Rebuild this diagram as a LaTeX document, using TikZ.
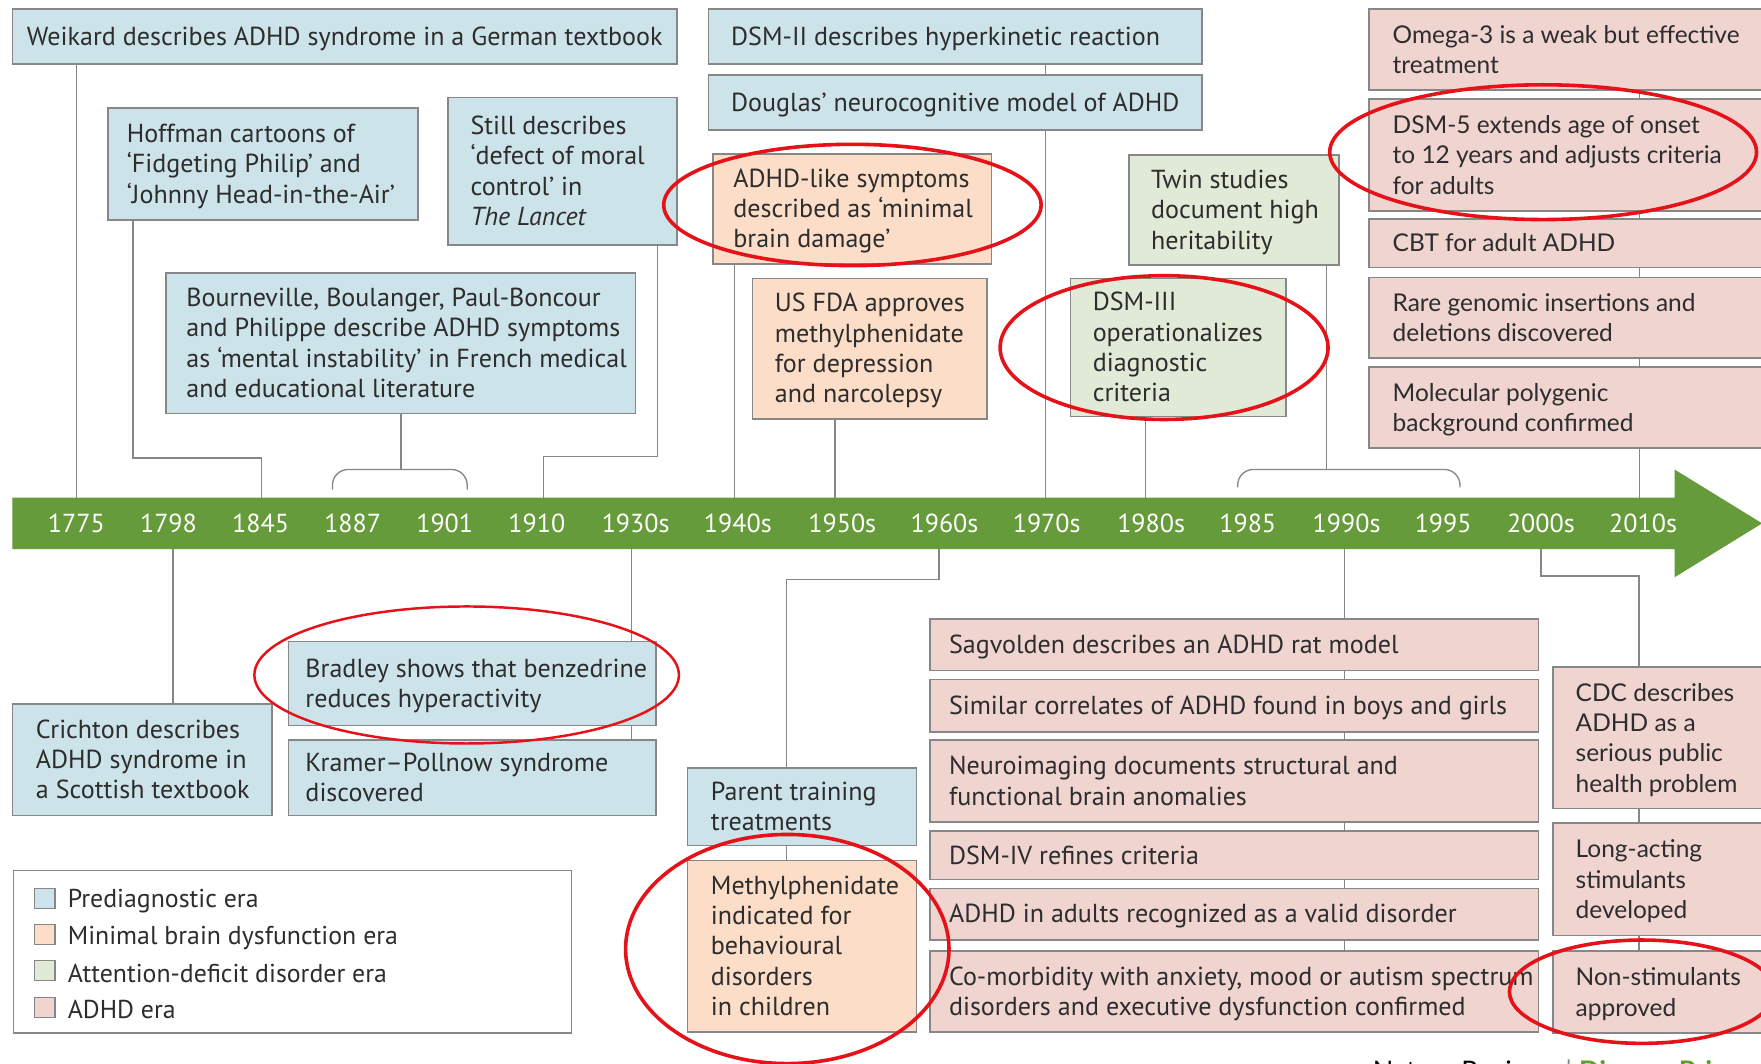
\documentclass[tikz,border=0pt]{standalone}
\usepackage{fontspec}
\setmainfont{PT Sans}
\newfontfamily\widefont{Lato}
\usetikzlibrary{calc}
\definecolor{pblue}{RGB}{205,227,234}
\definecolor{porange}{RGB}{252,221,199}
\definecolor{pgreen}{RGB}{225,234,215}
\definecolor{ppink}{RGB}{239,212,208}
\definecolor{bordergray}{RGB}{135,135,135}
\definecolor{linegray}{RGB}{135,135,135}
\definecolor{tlgreen}{RGB}{101,155,58}
\definecolor{annred}{RGB}{230,18,25}
\definecolor{txt}{RGB}{45,45,45}
\definecolor{natgreen}{RGB}{95,160,45}
\tikzset{
  ebase/.style={draw=bordergray,line width=0.7pt,inner ysep=0pt,
    font=\fontsize{11.6}{13.5}\selectfont,text=txt},
  wide/.style={font=\widefont\fontsize{10.9}{13.5}\selectfont},
  conn/.style={draw=linegray,line width=0.6pt},
  ann/.style={draw=annred,line width=1.6pt},
  yr/.style={text=white,font=\fontsize{11.6}{13}\selectfont,inner sep=0pt},
  legsq/.style={draw=bordergray,line width=0.6pt,minimum size=9pt,inner sep=0pt},
  legtx/.style={anchor=west,inner sep=0pt,text=txt,font=\fontsize{11.5}{13.5}\selectfont},
}
% [pad]{name}{style}{x1}{y1}{x2}{y2}{lines}
\newcommand\ebox[8][9.5]{%
  \pgfmathsetmacro\ebw{(#6-#4)*0.5}%
  \pgfmathsetmacro\ebh{(#7-#5)*0.5}%
  \pgfmathsetmacro\ebt{(#6-#4)*0.5-2*#1}%
  \node[ebase,#3,inner xsep=#1pt,minimum width=\ebw pt,minimum height=\ebh pt] (#2) at ({(#4+#6)/2},{(#5+#7)/2})
    {\makebox[\ebt pt][l]{\raisebox{-1.2pt}[\height][\depth]{\begin{tabular}{@{}l@{}}#8\end{tabular}}}};}
\begin{document}
\begin{tikzpicture}[x=0.5pt,y=-0.5pt]
\useasboundingbox (0,0) rectangle (1568,947);
\fill[white] (0,0) rectangle (1568,947);

% ---------- timeline ----------
\fill[tlgreen] (11,443) -- (1491,443) -- (1491,418) -- (1569,466) -- (1491,514) -- (1491,489) -- (11,489) -- cycle;
\foreach \xx/\ll in {68/1775,150/1798,232/1845,314/1887,396/1901,478/1910,566/1930s,657/1940s,750/1950s,841/1960s,932/1970s,1025/1980s,1111/1985,1199/1990s,1285/1995,1372/2000s,1463/2010s}
  \node[yr] (y\ll) at (\xx,466) {\ll};

% bar attachment points
\coordinate (t1775) at (68,443);
\coordinate (t1845) at (233,443);
\coordinate (t1910) at (484,443);
\coordinate (t1940) at (654,443);
\coordinate (t1950) at (743.5,443);
\coordinate (t1970) at (931,443);
\coordinate (t1980) at (1020,443);
\coordinate (t2010) at (1460,443);
\coordinate (b1798) at (154,489);
\coordinate (b1930) at (562,489);
\coordinate (b1960) at (836,489);
\coordinate (b1990) at (1197,489);
\coordinate (b2000) at (1372,489);

% ---------- top boxes ----------
\ebox[6.5]{weikard}{fill=pblue}{11}{8}{603}{57}{Weikard describes ADHD syndrome in a German textbook}
\ebox[8.5]{hoffman}{fill=pblue}{96}{96}{372}{196}{Hoffman cartoons of\\ ‘Fidgeting Philip’ and\\ ‘Johnny Head-in-the-Air’}
\ebox[10]{still}{fill=pblue}{399}{87}{603}{218}{Still describes\\ ‘defect of moral\\ control’ in\\ \textit{The Lancet}}
\ebox[9]{bourn}{fill=pblue}{148}{243}{566}{368}{Bourneville, Boulanger, Paul-Boncour\\ and Philippe describe ADHD symptoms\\ as ‘mental instability’ in French medical\\ and educational literature}
\ebox[10]{dsm2}{fill=pblue}{631}{8}{1070}{57}{DSM-II describes hyperkinetic reaction}
\ebox[10]{douglas}{fill=pblue}{631}{67}{1070}{116}{Douglas’ neurocognitive model of ADHD}
\ebox[9]{mbd}{fill=porange}{635}{137}{883}{235}{ADHD-like symptoms\\ described as ‘minimal\\ brain damage’}
\ebox[10]{fda}{fill=porange}{670}{248}{879}{373}{US FDA approves\\ methylphenidate\\ for depression\\ and narcolepsy}
\ebox[10]{twin}{fill=pgreen}{1005}{138}{1192}{236}{Twin studies\\ document high\\ heritability}
\ebox[10]{dsm3}{fill=pgreen}{953}{248}{1145}{371}{DSM-III\\ operationalizes\\ diagnostic\\ criteria}
\ebox[10.5]{omega}{fill=ppink,wide}{1219}{8}{1590}{80}{Omega-3 is a weak but effective\\ treatment}
\ebox[10.5]{dsm5}{fill=ppink,wide}{1219}{88}{1590}{188}{DSM-5 extends age of onset\\ to 12 years and adjusts criteria\\ for adults}
\ebox[10.5]{cbt}{fill=ppink,wide}{1219}{195}{1590}{238}{CBT for adult ADHD}
\ebox[10.5]{rare}{fill=ppink,wide}{1219}{247}{1590}{319}{Rare genomic insertions and\\ deletions discovered}
\ebox[10.5]{molec}{fill=ppink,wide}{1219}{327}{1590}{399}{Molecular polygenic\\ background confirmed}

% ---------- bottom boxes ----------
\ebox[10.5]{crichton}{fill=pblue}{11}{627}{242}{726}{Crichton describes\\ ADHD syndrome in\\ a Scottish textbook}
\ebox[7.5]{bradley}{fill=pblue}{257}{571}{584}{646}{Bradley shows that benzedrine\\ reduces hyperactivity}
\ebox[7.5]{kramer}{fill=pblue}{257}{659}{584}{726}{Kramer–Pollnow syndrome\\ discovered}
\ebox[10.5]{parent}{fill=pblue}{612}{684}{816}{753}{Parent training\\ treatments}
\ebox[10.5]{methyl}{fill=porange}{612}{766}{816}{919}{Methylphenidate\\ indicated for\\ behavioural\\ disorders\\ in children}
\ebox[8.5]{sag}{fill=ppink}{828}{551}{1370}{597}{Sagvolden describes an ADHD rat model}
\ebox[8.5]{similar}{fill=ppink}{828}{605}{1370}{652}{Similar correlates of ADHD found in boys and girls}
\ebox[8.5]{neuro}{fill=ppink}{828}{659}{1370}{732}{Neuroimaging documents structural and\\ functional brain anomalies}
\ebox[8.5]{dsm4}{fill=ppink}{828}{740}{1370}{783}{DSM-IV refines criteria}
\ebox[8.5]{adults}{fill=ppink}{828}{791}{1370}{837}{ADHD in adults recognized as a valid disorder}
\ebox[8.5]{comorb}{fill=ppink}{828}{847}{1370}{919}{Co-morbidity with anxiety, mood or autism spectrum\\ disorders and executive dysfunction confirmed}
\ebox[10]{cdc}{fill=ppink,wide}{1383}{594}{1590}{720}{CDC describes\\ ADHD as a\\ serious public\\ health problem}
\ebox[10]{long}{fill=ppink,wide}{1383}{733}{1590}{833}{Long-acting\\ stimulants\\ developed}
\ebox[10]{nonstim}{fill=ppink,wide}{1383}{847}{1590}{920}{Non-stimulants\\ approved}

% ---------- legend ----------
\ebox{legend}{fill=white}{12}{775}{509}{920}{}
\node[legsq,fill=pblue] (lq1) at (40,800) {};
\node[legsq,fill=porange] (lq2) at (40,832) {};
\node[legsq,fill=pgreen] (lq3) at (40,864) {};
\node[legsq,fill=ppink] (lq4) at (40,897) {};
\node[legtx] (lt1) at (60,802) {Prediagnostic era};
\node[legtx] (lt2) at (60,835) {Minimal brain dysfunction era};
\node[legtx] (lt3) at (60,867) {Attention-deficit disorder era};
\node[legtx] (lt4) at (60,899) {ADHD era};

% ---------- connectors: top ----------
\draw[conn] (weikard.south -| t1775) -- (t1775);
\draw[conn] ($(hoffman.south west)+(23,0)$) -- ++(0,211) -| (t1845);
\draw[conn] ($(still.south west)+(187,0)$) -- ++(0,188) -| (t1910);
\coordinate (bb1) at (357,418);
\draw[conn] (bourn.south -| bb1) -- (bb1);
\coordinate (br1l) at (296,436);
\coordinate (br1r) at (416,436);
\draw[conn,rounded corners=7pt] (br1l) |- (bb1) -| (br1r);
\draw[conn] (dsm2.south -| t1970) -- (douglas.north -| t1970);
\draw[conn] (douglas.south -| t1970) -- (t1970);
\draw[conn] (mbd.south -| t1940) -- (t1940);
\draw[conn] (fda.south -| t1950) -- (t1950);
\coordinate (bb2) at (1181,418);
\draw[conn] (twin.south -| bb2) -- (bb2);
\coordinate (br2l) at (1102,434);
\coordinate (br2r) at (1300,434);
\draw[conn,rounded corners=7pt] (br2l) |- (bb2) -| (br2r);
\draw[conn] (dsm3.south -| t1980) -- (t1980);
\draw[conn] (omega.south -| t2010) -- (dsm5.north -| t2010);
\draw[conn] (dsm5.south -| t2010) -- (cbt.north -| t2010);
\draw[conn] (cbt.south -| t2010) -- (rare.north -| t2010);
\draw[conn] (rare.south -| t2010) -- (molec.north -| t2010);
\draw[conn] (molec.south -| t2010) -- (t2010);

% ---------- connectors: bottom ----------
\draw[conn] (b1798) -- (crichton.north -| b1798);
\draw[conn] (b1930) -- (bradley.north -| b1930);
\draw[conn] (bradley.south -| b1930) -- (kramer.north -| b1930);
\draw[conn] (b1960) -- ++(0,27) -| ($(parent.north west)+(89,0)$);
\draw[conn] ($(parent.south west)+(89,0)$) -- ($(methyl.north west)+(89,0)$);
\draw[conn] (b1990) -- (sag.north -| b1990);
\draw[conn] (sag.south -| b1990) -- (similar.north -| b1990);
\draw[conn] (similar.south -| b1990) -- (neuro.north -| b1990);
\draw[conn] (neuro.south -| b1990) -- (dsm4.north -| b1990);
\draw[conn] (dsm4.south -| b1990) -- (adults.north -| b1990);
\draw[conn] (adults.south -| b1990) -- (comorb.north -| b1990);
\draw[conn] (b2000) -- ++(0,24) -| ($(cdc.north west)+(77,0)$);
\draw[conn] ($(cdc.south west)+(77,0)$) -- ($(long.north west)+(77,0)$);
\draw[conn] ($(long.south west)+(77,0)$) -- ($(nonstim.north west)+(77,0)$);

% ---------- footer (cut by the lower edge, as in the reference) ----------
\node[anchor=base west,inner sep=0pt,font=\widefont\fontsize{12}{14}\selectfont,text=black] (footer) at (1222,962)
  {Nature Reviews \textcolor{linegray}{|} \textcolor{natgreen}{\bfseries Disease Primers}};

% ---------- red annotations ----------
\draw[ann] (759,182.5) ellipse [x radius=84pt,y radius=27pt];
\draw[ann] (1374,135.5) ellipse [x radius=95pt,y radius=30pt];
\draw[ann] (1036.5,309.5) ellipse [x radius=73pt,y radius=32pt];
\draw[ann,line width=1.1pt] (415.5,601) ellipse [x radius=94.5pt,y radius=30.5pt];
\draw[ann] (701,845) ellipse [x radius=72pt,y radius=51pt];
\draw[ann] (1462,883) ellipse [x radius=59pt,y radius=23pt];
\end{tikzpicture}
\end{document}
